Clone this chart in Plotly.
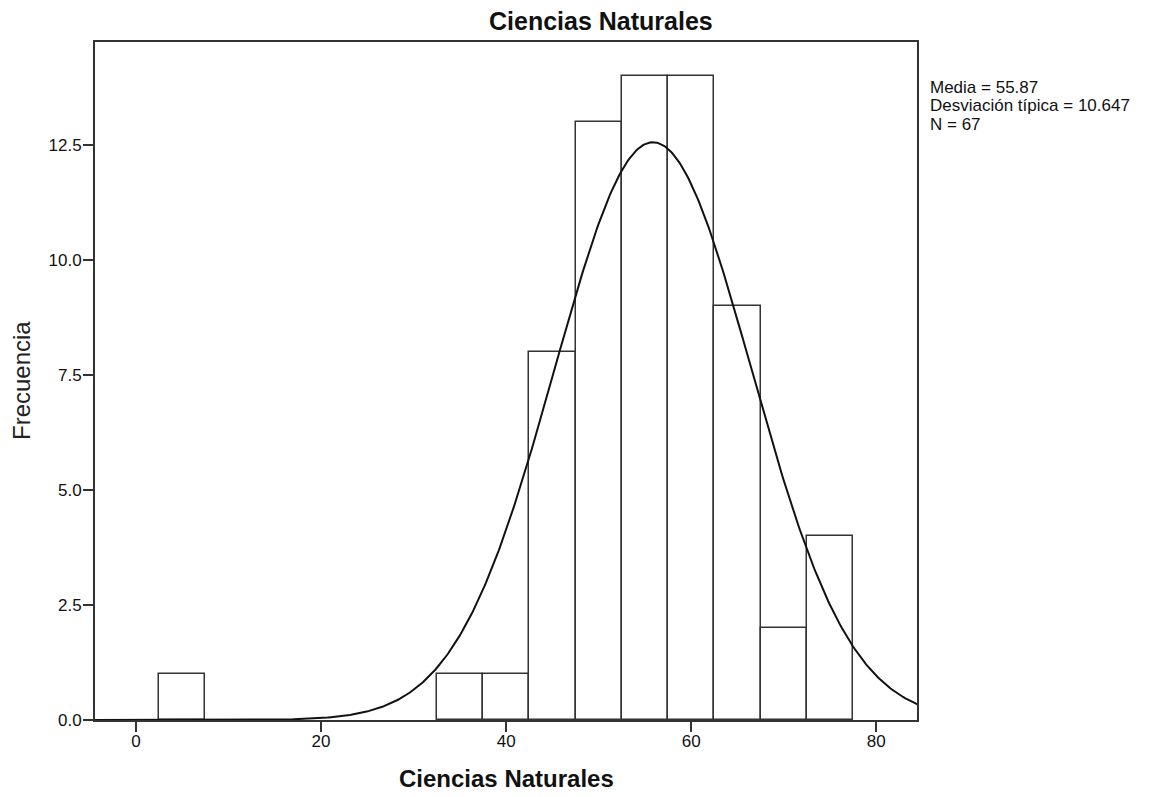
import numpy as np
import plotly.graph_objects as go

# Data
bin_centers = [5, 35, 40, 45, 50, 55, 60, 65, 70, 75]
frequencies = [1, 1, 1, 8, 13, 14, 14, 9, 2, 4]
bin_width = 5
mean_val = 55.87
sd_val = 10.647
n_val = 67
x_ticks = [0, 20, 40, 60, 80]
y_ticks = [0.0, 2.5, 5.0, 7.5, 10.0, 12.5]
y_tick_labels = ["0.0", "2.5", "5.0", "7.5", "10.0", "12.5"]
stats_lines = [f"Media = {mean_val}", f"Desviación típica = {sd_val}", f"N = {n_val}"]

# Fitted normal curve from the stated parameters
xc = np.linspace(-5, 85, 600)
yc = n_val * bin_width / (sd_val * np.sqrt(2 * np.pi)) * np.exp(-0.5 * ((xc - mean_val) / sd_val) ** 2)

# Layout geometry (page body has 8px margin)
W, H = 1150, 797
L, R, T, B = 87, 241, 34, 85
PW, PH = W - L - R, H - T - B

fig = go.Figure()
fig.add_trace(go.Bar(
    x=bin_centers, y=frequencies, width=[bin_width] * len(bin_centers),
    marker=dict(color="white", line=dict(color="#333333", width=1.5)),
    hoverinfo="x+y", showlegend=False,
))
fig.add_trace(go.Scatter(
    x=xc, y=yc, mode="lines", line=dict(color="#111111", width=2),
    showlegend=False, hoverinfo="skip",
))

font = "Liberation Sans, Arial, sans-serif"
axis_common = dict(
    ticks="outside", ticklen=10, tickwidth=1.8, tickcolor="#333333",
    showline=True, linecolor="#333333", linewidth=1.8, mirror=True,
    showgrid=False, zeroline=False, automargin=False,
    tickfont=dict(size=17, color="#111111", family=font),
)

annotations = [
    dict(xref="paper", yref="paper", x=(593 - L) / PW, y=(PH + T - 13) / PH,
         xanchor="center", yanchor="middle", showarrow=False,
         text="<b>Ciencias Naturales</b>", font=dict(size=25, color="#111111")),
    dict(xref="paper", yref="paper", x=0.5, y=-(770.5 - (H - B)) / PH,
         xanchor="center", yanchor="middle", showarrow=False,
         text="<b>Ciencias Naturales</b>", font=dict(size=24, color="#111111")),
    dict(xref="paper", yref="paper", x=(13 - L) / PW, y=0.5, textangle=-90,
         xanchor="center", yanchor="middle", showarrow=False,
         text="Frecuencia", font=dict(size=24, color="#222222")),
]
for i, line in enumerate(stats_lines):
    ypx = 79 + 18.7 * i  # paper px of line centre
    annotations.append(dict(
        xref="paper", yref="paper", x=(920 - L) / PW, y=((H - B) - ypx) / PH,
        xanchor="left", yanchor="middle", showarrow=False, align="left",
        text=line, font=dict(size=17, color="#111111"),
    ))

fig.update_layout(
    width=W, height=H,
    margin=dict(l=L, r=R, t=T, b=B),
    paper_bgcolor="white", plot_bgcolor="white",
    font=dict(family=font, color="#111111", size=17),
    bargap=0,
    xaxis=dict(range=[-4.43, 84.4], tickvals=x_ticks, ticktext=[str(v) for v in x_ticks],
               ticklabelstandoff=-5, **axis_common),
    yaxis=dict(range=[0, 14.73], tickvals=y_ticks, ticktext=y_tick_labels,
               ticklabelstandoff=-2, **axis_common),
    annotations=annotations,
)

fig.write_html("out.html")
